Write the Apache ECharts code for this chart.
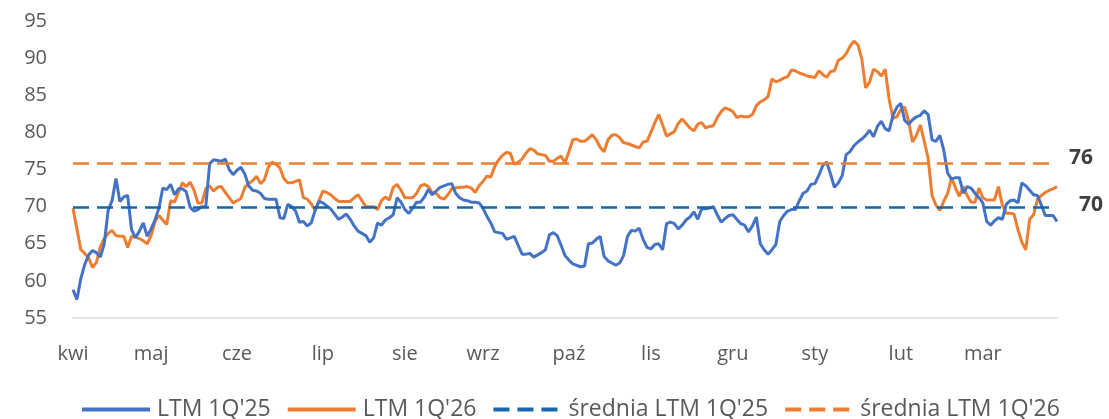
<!DOCTYPE html>
<html>
<head>
<meta charset="utf-8">
<script src="https://cdn.jsdelivr.net/npm/echarts@6/dist/echarts.min.js"></script>
<style>
  html, body { margin: 0; padding: 0; background: #fff; }
  #chart { width: 1109px; height: 419px; }
</style>
</head>
<body>
<div id="chart"></div>
<script>
// nazwy miesięcy i indeks pierwszej sesji w miesiącu
const monthNames = ["kwi", "maj", "cze", "lip", "sie", "wrz", "paź", "lis", "gru", "sty", "lut", "mar"];
const monthStarts = [0, 20, 42, 64, 85, 105, 127, 148, 169, 190, 212, 233];

const ltm25 = [
  58.8, 57.5, 60.3, 62.2, 63.5, 64.1, 63.8, 63.2, 65.0, 69.5,
  70.8, 73.8, 70.7, 71.3, 71.5, 66.9, 65.8, 66.7, 67.8, 66.0,
  67.0, 68.2, 69.8, 72.5, 72.3, 73.0, 71.6, 72.4, 72.4, 72.0,
  69.9, 69.4, 69.6, 70.0, 70.0, 75.8, 76.3, 76.2, 76.1, 76.4,
  75.0, 74.3, 74.9, 75.3, 74.4, 72.8, 72.2, 72.1, 71.8, 71.1,
  71.0, 71.0, 71.0, 68.5, 68.4, 70.3, 70.0, 69.4, 67.9, 68.0,
  67.4, 67.8, 69.5, 70.7, 70.5, 70.1, 69.7, 69.0, 68.3, 68.6,
  69.0, 68.3, 67.4, 66.7, 66.4, 66.1, 65.2, 65.8, 67.8, 67.5,
  68.2, 68.5, 68.9, 71.2, 70.6, 69.6, 69.1, 69.8, 70.6, 70.6,
  71.3, 72.3, 71.6, 72.1, 72.6, 72.8, 73.0, 73.1, 71.8, 71.2,
  70.9, 70.8, 70.6, 70.6, 70.5, 69.8, 68.7, 67.8, 66.6, 66.5,
  66.4, 65.6, 65.8, 66.0, 64.8, 63.6, 63.6, 63.7, 63.2, 63.5,
  63.8, 64.2, 66.2, 66.5, 66.1, 64.8, 63.4, 62.8, 62.3, 62.1,
  61.9, 62.0, 65.0, 65.1, 65.6, 66.0, 63.3, 62.7, 62.4, 62.1,
  62.4, 63.4, 66.0, 66.8, 66.7, 67.1, 65.6, 64.5, 64.3, 64.9,
  65.0, 64.2, 67.7, 67.9, 67.7, 67.0, 67.5, 68.2, 68.6, 69.3,
  68.3, 69.7, 69.7, 69.8, 70.0, 68.9, 67.9, 68.4, 68.8, 68.9,
  68.3, 67.7, 67.5, 66.6, 67.4, 68.6, 65.0, 64.2, 63.6, 64.2,
  64.9, 68.0, 68.8, 69.4, 69.6, 69.6, 70.8, 71.8, 72.1, 73.0,
  73.1, 74.2, 75.5, 76.0, 74.4, 72.6, 73.2, 74.2, 77.0, 77.4,
  78.2, 78.7, 79.1, 79.6, 80.3, 79.4, 80.8, 81.5, 80.5, 80.2,
  82.3, 83.4, 83.9, 81.6, 81.1, 81.7, 82.1, 82.3, 82.9, 82.4,
  79.0, 78.8, 79.6, 77.6, 74.5, 73.7, 73.9, 73.9, 71.8, 72.7,
  72.5, 71.8, 71.2, 70.5, 68.0, 67.5, 68.1, 68.5, 68.3, 70.3,
  70.8, 70.9, 70.5, 73.2, 72.8, 72.2, 71.6, 71.5, 70.2, 68.8,
  68.8, 68.8, 68.0
];

const ltm26 = [
  69.8, 67.0, 64.2, 63.7, 63.1, 61.8, 62.5, 64.6, 65.7, 66.4,
  66.8, 66.1, 66.0, 66.0, 64.5, 66.0, 65.9, 65.7, 65.4, 65.0,
  66.1, 68.0, 68.8, 68.2, 67.6, 70.8, 70.6, 71.9, 73.2, 72.7,
  73.3, 72.2, 70.5, 70.5, 72.4, 72.8, 72.1, 72.6, 72.7, 71.9,
  71.2, 70.5, 70.8, 71.1, 72.6, 73.1, 73.5, 74.1, 73.1, 73.6,
  75.3, 76.0, 75.7, 75.2, 73.8, 73.2, 73.2, 73.4, 73.6, 71.2,
  71.0, 70.4, 69.5, 70.8, 72.1, 71.9, 71.6, 71.1, 70.7, 70.7,
  70.7, 70.7, 71.2, 71.6, 70.8, 70.0, 70.0, 70.0, 69.6, 70.8,
  71.3, 70.9, 72.6, 73.0, 72.2, 71.2, 71.2, 71.2, 71.8, 72.8,
  73.0, 72.7, 71.9, 71.8, 71.2, 71.0, 71.6, 72.4, 72.5, 72.6,
  72.6, 72.7, 72.5, 71.9, 72.8, 73.4, 74.1, 74.0, 75.4, 76.3,
  76.9, 77.3, 77.2, 75.7, 76.0, 76.4, 77.2, 77.8, 77.6, 77.1,
  77.0, 76.9, 76.1, 76.1, 76.5, 76.8, 75.9, 77.4, 79.0, 79.1,
  78.8, 78.8, 79.2, 79.7, 79.0, 78.0, 77.4, 79.0, 79.6, 79.7,
  79.3, 78.6, 78.5, 78.3, 78.1, 77.9, 78.7, 78.8, 80.0, 81.3,
  82.4, 81.0, 79.5, 79.8, 80.1, 81.2, 81.8, 81.2, 80.6, 80.2,
  81.1, 81.3, 80.6, 80.8, 80.9, 82.0, 82.8, 83.3, 83.1, 82.8,
  82.0, 82.2, 82.1, 82.1, 82.4, 83.6, 84.1, 84.4, 84.8, 87.2,
  86.8, 87.0, 87.3, 87.5, 88.4, 88.3, 88.0, 87.8, 87.6, 87.5,
  87.4, 88.3, 87.8, 87.4, 88.2, 88.3, 89.7, 90.0, 90.6, 91.6,
  92.3, 91.8, 89.9, 86.0, 86.8, 88.5, 88.2, 87.6, 88.5, 84.5,
  81.9, 82.1, 83.1, 83.4, 81.5, 78.7, 79.6, 81.0, 78.8, 76.5,
  71.5, 70.2, 69.5, 70.7, 71.8, 73.9, 72.5, 71.4, 72.7, 71.5,
  70.6, 70.6, 72.5, 71.2, 70.9, 70.9, 70.9, 72.7, 70.2, 69.1,
  69.1, 69.0, 66.9, 65.2, 64.2, 68.3, 68.9, 71.0, 71.5, 71.9,
  72.2, 72.4, 72.7
];

// średnie z okresu
const avgValues = [69.9, 75.8];
const avgLabels = ["70", "76"];

const yTicks = { min: 55, max: 95, step: 5 };

const days = ltm25.map(function (v, i) { return "d" + i; });

const textColor = "#595959";
const fontFamily = "'Open Sans', 'Noto Sans', sans-serif";

let chart = echarts.init(document.getElementById("chart"), null, { renderer: "canvas" });
chart.setOption({
  animation: false,
  backgroundColor: "#fff",
  textStyle: { fontFamily: fontFamily },
  grid: { left: 73, right: 52, top: 21, bottom: 101 },
  legend: {
    left: 75,
    top: 393,
    itemWidth: 68,
    itemHeight: 14,
    itemGap: 15,
    itemStyle: { opacity: 0 },
    lineStyle: { width: 4 },
    textStyle: { color: textColor, fontSize: 23, fontFamily: fontFamily, padding: [0, 0, 0, 2] },
    data: ["LTM 1Q'25", "LTM 1Q'26", "średnia LTM 1Q'25", "średnia LTM 1Q'26"]
  },
  xAxis: {
    type: "category",
    boundaryGap: false,
    data: days,
    axisLine: { lineStyle: { color: "#d9d9d9", width: 1.5 } },
    axisTick: { show: false },
    axisLabel: {
      color: textColor,
      fontSize: 20,
      margin: 26,
      hideOverlap: false,
      interval: function (index) { return monthStarts.indexOf(index) >= 0; },
      formatter: function (value, index) {
        let k = monthStarts.indexOf(index);
        return k >= 0 ? monthNames[k] : "";
      }
    },
    splitLine: { show: false }
  },
  yAxis: {
    type: "value",
    min: yTicks.min,
    max: yTicks.max,
    interval: yTicks.step,
    axisLine: { show: false },
    axisTick: { show: false },
    splitLine: { show: false },
    axisLabel: { color: textColor, fontSize: 20, margin: 26 }
  },
  series: [
    {
      name: "LTM 1Q'25",
      type: "line",
      data: ltm25,
      symbol: "none",
      z: 3,
      lineStyle: { color: "#4472C4", width: 3 },
      itemStyle: { color: "#4472C4" }
    },
    {
      name: "LTM 1Q'26",
      type: "line",
      data: ltm26,
      symbol: "none",
      z: 2,
      lineStyle: { color: "#ED7D31", width: 3 },
      itemStyle: { color: "#ED7D31" }
    },
    {
      name: "średnia LTM 1Q'25",
      type: "line",
      data: [],
      symbol: "none",
      lineStyle: { color: "#1467AC", width: 2.5, type: [16, 8] },
      itemStyle: { color: "#1467AC" },
      markLine: {
        silent: true,
        symbol: "none",
        lineStyle: { color: "#1467AC", width: 2.5, type: [16, 8] },
        label: {
          position: "end",
          distance: 22,
          offset: [0, -2],
          color: "#404040",
          fontSize: 21,
          fontWeight: "bold",
          formatter: avgLabels[0]
        },
        data: [{ yAxis: avgValues[0] }]
      }
    },
    {
      name: "średnia LTM 1Q'26",
      type: "line",
      data: [],
      symbol: "none",
      lineStyle: { color: "#ED7D31", width: 2.5, type: [16, 8] },
      itemStyle: { color: "#ED7D31" },
      markLine: {
        silent: true,
        symbol: "none",
        lineStyle: { color: "#ED7D31", width: 2.5, type: [16, 8] },
        label: {
          position: "end",
          distance: 12,
          offset: [0, -6],
          color: "#404040",
          fontSize: 21,
          fontWeight: "bold",
          formatter: avgLabels[1]
        },
        data: [{ yAxis: avgValues[1] }]
      }
    }
  ]
});
</script>
</body>
</html>
